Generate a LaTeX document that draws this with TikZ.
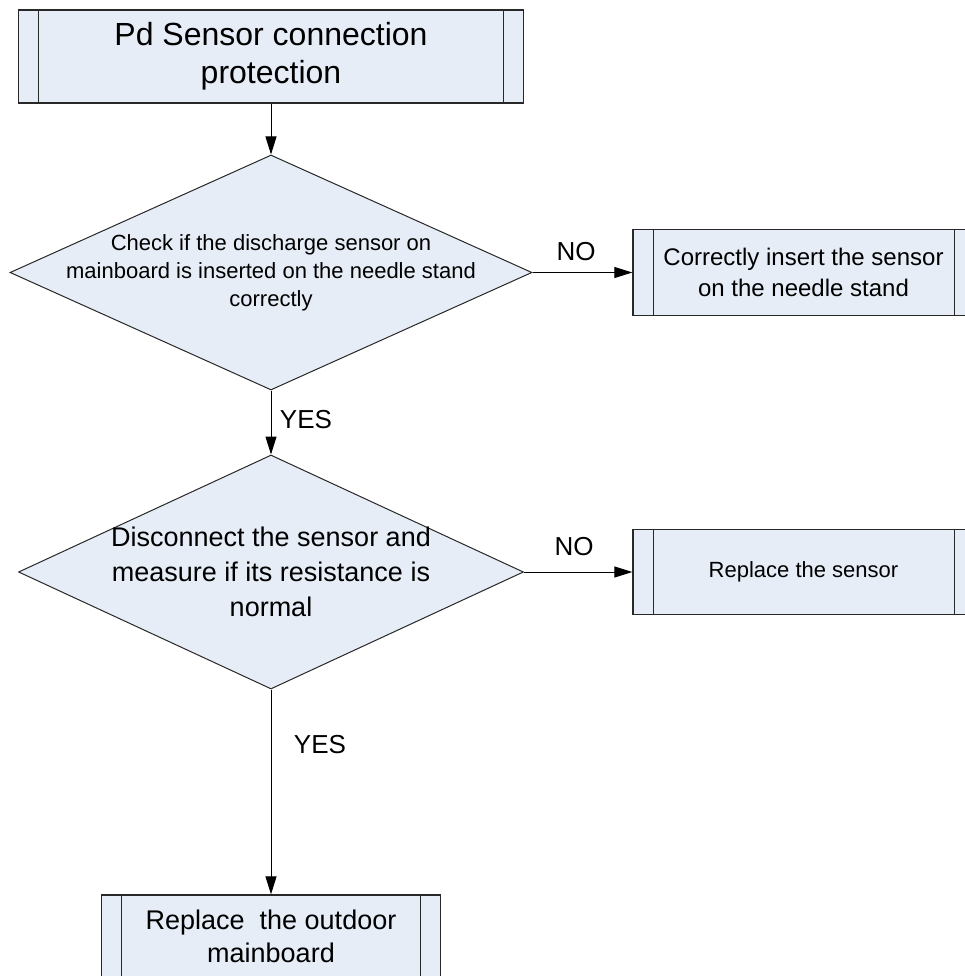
\documentclass[tikz,border=0pt]{standalone}
\usepackage{fontspec}
\setmainfont{Liberation Sans}
\usetikzlibrary{shapes.geometric,arrows.meta}
\definecolor{boxfill}{RGB}{230,237,247}
\definecolor{edgecol}{RGB}{40,40,40}
\tikzset{
  procbox/.style={rectangle, draw=edgecol, fill=boxfill, line width=1.3pt, inner sep=0pt, align=center,
    path picture={
      \draw[edgecol, line width=1pt] ([xshift=20pt]path picture bounding box.north west) -- ([xshift=20pt]path picture bounding box.south west);
      \draw[edgecol, line width=1pt] ([xshift=-20pt]path picture bounding box.north east) -- ([xshift=-20pt]path picture bounding box.south east);
    }},
  decbox/.style={diamond, draw=edgecol, fill=boxfill, line width=1pt, inner sep=0pt},
  dtext/.style={align=center, inner sep=0pt},
  arr/.style={-{Triangle[length=18pt,width=11pt]}, line width=1pt, black},
  lbl/.style={font=\fontsize{26}{30}\selectfont, inner sep=0pt}
}
\begin{document}
\begin{tikzpicture}[x=1pt,y=-1pt]
\useasboundingbox (0,0) rectangle (965,976);
\clip (0,0) rectangle (965,976);
\node[procbox, minimum width=505pt, minimum height=93pt, font=\fontsize{32}{38}\selectfont] (b1) at (271,56.5) {Pd Sensor connection\\protection};
\node[decbox, minimum width=522pt, minimum height=235pt] (d1) at (271,272.5) {};
\node[dtext, font=\fontsize{22}{28}\selectfont] (t1) at (d1.center) {Check if the discharge sensor on\\mainboard is inserted on the needle stand\\correctly};
\node[procbox, minimum width=341pt, minimum height=86pt, font=\fontsize{24}{31}\selectfont] (b2) at (803.5,272.5) {Correctly insert the sensor\\on the needle stand};
\node[decbox, minimum width=505pt, minimum height=234pt] (d2) at (271,572) {};
\node[dtext, font=\fontsize{27}{35}\selectfont] (t2) at (d2.center) {Disconnect the sensor and\\measure if its resistance is\\normal};
\node[procbox, minimum width=341pt, minimum height=85pt, font=\fontsize{22}{27}\selectfont] (b3) at (803.5,572) {Replace the sensor};
\node[procbox, minimum width=339pt, minimum height=83pt, font=\fontsize{27}{33}\selectfont] (b4) at (271,936.5) {Replace\ \ the outdoor\\mainboard};
\draw[arr] (b1.south) -- (d1.north);
\draw[arr] (d1.east) -- (b2.west);
\draw[arr] (d1.south) -- (d2.north);
\draw[arr] (d2.east) -- (b3.west);
\draw[arr] (d2.south) -- (b4.north);
\node[lbl] (no1) at (576,252) {NO};
\node[lbl] (no2) at (574,547) {NO};
\node[lbl] (yes1) at (306,420) {YES};
\node[lbl] (yes2) at (320,745) {YES};
\end{tikzpicture}
\end{document}
